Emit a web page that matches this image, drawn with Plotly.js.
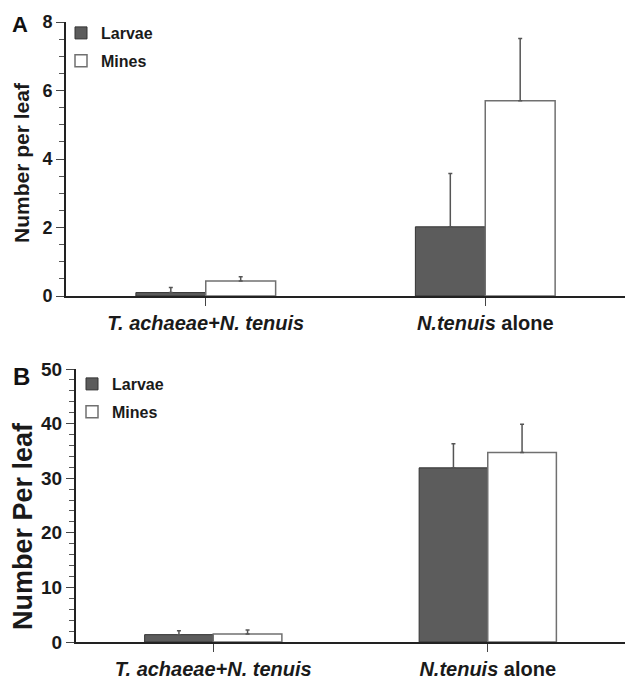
<!DOCTYPE html>
<html>
<head>
<meta charset="utf-8">
<script src="https://cdn.plot.ly/plotly-3.0.1.min.js"></script>
<style>html,body{margin:0;padding:0;background:#fff;} #chart{width:625px;height:679px;}</style>
</head>
<body>
<div id="chart"></div>
<script>
// Categories (tick labels)
const categories = ["<b><i>T. achaeae+N. tenuis</i></b>", "<b><i>N.tenuis</i> alone</b>"];
const seriesNames = ["Larvae", "Mines"];

// Panel A values (mean and upper error)
const larvaeA = [0.10, 2.02];
const larvaeAErr = [0.15, 1.56];
const minesA = [0.44, 5.70];
const minesAErr = [0.12, 1.82];

// Panel B values
const larvaeB = [1.35, 31.9];
const larvaeBErr = [0.70, 4.4];
const minesB = [1.45, 34.7];
const minesBErr = [0.75, 5.2];

const FONT = "Liberation Sans, Arial, Helvetica, sans-serif";
const W = 625, H = 679;
const px = v => v / W;
const py = v => 1 - v / H;

function barTrace(name, y, err, xa, ya, legendName, isLarvae) {
  return {
    type: "bar",
    name: name,
    x: categories,
    y: y,
    xaxis: xa,
    yaxis: ya,
    legend: legendName,
    legendgroup: legendName + name,
    showlegend: true,
    marker: {
      color: isLarvae ? "#5c5c5c" : "#ffffff",
      line: { color: isLarvae ? "#333333" : "#707070", width: isLarvae ? 1 : 1.5 }
    },
    error_y: {
      type: "data", symmetric: false, array: err, arrayminus: err.map(() => 0),
      color: "#555555", thickness: 1.5, width: 2
    },
    hoverinfo: "skip"
  };
}

const data = [
  barTrace(seriesNames[0], larvaeA, larvaeAErr, "x", "y", "legend", true),
  barTrace(seriesNames[1], minesA, minesAErr, "x", "y", "legend", false),
  barTrace(seriesNames[0], larvaeB, larvaeBErr, "x2", "y2", "legend2", true),
  barTrace(seriesNames[1], minesB, minesBErr, "x2", "y2", "legend2", false)
];

const axisLine = { showline: true, linecolor: "#222", linewidth: 2, showgrid: false, zeroline: false };

const legendFont = { family: FONT, size: 16, weight: "bold", color: "#1a1a1a" };

const layout = {
  width: W, height: H,
  margin: { l: 0, r: 0, t: 0, b: 0 },
  paper_bgcolor: "#fff", plot_bgcolor: "#fff",
  font: { family: FONT, color: "#1a1a1a" },
  barmode: "group",
  bargap: 0.5,
  bargroupgap: 0,
  xaxis: Object.assign({}, axisLine, {
    domain: [px(66), 1], anchor: "y", type: "category", range: [-0.5, 1.5],
    ticks: "outside", ticklen: 8, tickwidth: 1, tickcolor: "#444",
    tickfont: { family: FONT, size: 20, color: "#1a1a1a" }
  }),
  yaxis: Object.assign({}, axisLine, {
    domain: [py(296), py(22)], anchor: "x", range: [0, 8], dtick: 2,
    ticks: "outside", ticklen: 8, tickwidth: 1, tickcolor: "#444",
    minor: { dtick: 0.5, ticks: "outside", ticklen: 5, tickcolor: "#555", tickwidth: 1 },
    tickfont: { family: FONT, size: 18, weight: "bold", color: "#1a1a1a" }
  }),
  xaxis2: Object.assign({}, axisLine, {
    domain: [px(76), 1], anchor: "y2", type: "category", range: [-0.5, 1.5],
    ticks: "outside", ticklen: 8, tickwidth: 1, tickcolor: "#444",
    tickfont: { family: FONT, size: 20, color: "#1a1a1a" }
  }),
  yaxis2: Object.assign({}, axisLine, {
    domain: [py(642), py(369)], anchor: "x2", range: [0, 50], dtick: 10,
    ticks: "outside", ticklen: 8, tickwidth: 1, tickcolor: "#444",
    minor: { dtick: 2, ticks: "outside", ticklen: 5, tickcolor: "#555", tickwidth: 1 },
    tickfont: { family: FONT, size: 19, weight: "bold", color: "#1a1a1a" }
  }),
  legend: {
    x: px(61), y: py(16), xanchor: "left", yanchor: "top",
    font: legendFont, bgcolor: "rgba(0,0,0,0)", traceorder: "grouped", tracegroupgap: 4
  },
  legend2: {
    x: px(72), y: py(367), xanchor: "left", yanchor: "top",
    font: legendFont, bgcolor: "rgba(0,0,0,0)", traceorder: "grouped", tracegroupgap: 4
  },
  annotations: [
    { text: "A", xref: "paper", yref: "paper", x: px(20), y: py(25), xanchor: "center", yanchor: "middle",
      showarrow: false, font: { family: FONT, size: 22, weight: "bold", color: "#111" } },
    { text: "B", xref: "paper", yref: "paper", x: px(21), y: py(376), xanchor: "center", yanchor: "middle",
      showarrow: false, font: { family: FONT, size: 24, weight: "bold", color: "#111" } },
    { text: "Number per leaf", xref: "paper", yref: "paper", x: px(21), y: py(163), textangle: -90,
      xanchor: "center", yanchor: "middle",
      showarrow: false, font: { family: FONT, size: 21, weight: "bold", color: "#1a1a1a" } },
    { text: "Number Per leaf", xref: "paper", yref: "paper", x: px(23), y: py(526), textangle: -90,
      xanchor: "center", yanchor: "middle",
      showarrow: false, font: { family: FONT, size: 27, weight: "bold", color: "#1a1a1a" } }
  ]
};

Plotly.newPlot("chart", data, layout, { staticPlot: true, displayModeBar: false });
</script>
</body>
</html>
